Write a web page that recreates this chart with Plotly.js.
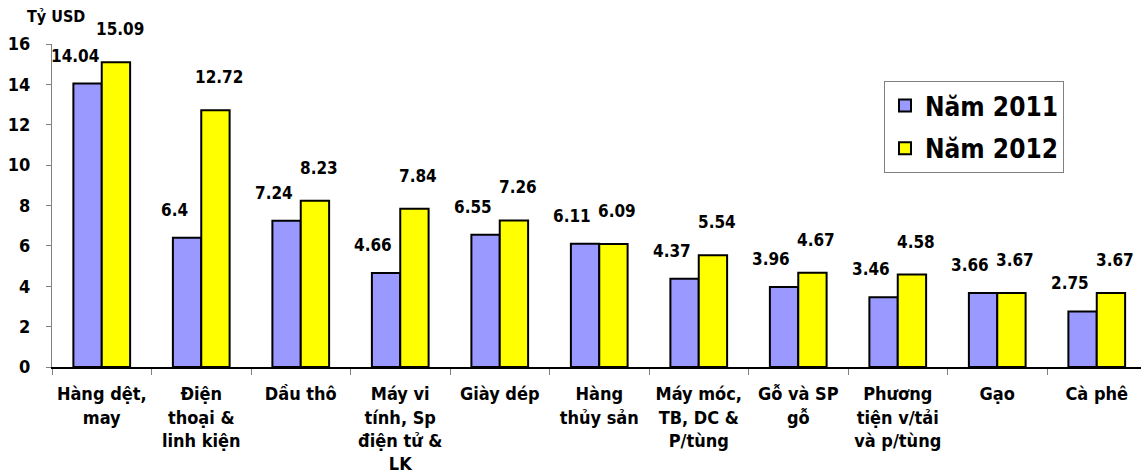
<!DOCTYPE html>
<html>
<head>
<meta charset="utf-8">
<script src="https://cdn.plot.ly/plotly-3.0.1.min.js"></script>
<style>html,body{margin:0;padding:0;background:#fff;}#chart{width:1141px;height:472px;}</style>
</head>
<body>
<div id="chart"></div>
<script>
const categories = [
  "Hàng dệt,<br>may",
  "Điện<br>thoại &<br>linh kiện",
  "Dầu thô",
  "Máy vi<br>tính, Sp<br>điện tử &<br>LK",
  "Giày dép",
  "Hàng<br>thủy sản",
  "Máy móc,<br>TB, DC &<br>P/tùng",
  "Gỗ và SP<br>gỗ",
  "Phương<br>tiện v/tải<br>và p/tùng",
  "Gạo",
  "Cà phê"
];
const values2011 = [14.04, 6.4, 7.24, 4.66, 6.55, 6.11, 4.37, 3.96, 3.46, 3.66, 2.75];
const values2012 = [15.09, 12.72, 8.23, 7.84, 7.26, 6.09, 5.54, 4.67, 4.58, 3.67, 3.67];
const labels2011 = ["14.04", "6.4", "7.24", "4.66", "6.55", "6.11", "4.37", "3.96", "3.46", "3.66", "2.75"];
const labels2012 = ["15.09", "12.72", "8.23", "7.84", "7.26", "6.09", "5.54", "4.67", "4.58", "3.67", "3.67"];
const seriesNames = ["Năm 2011", "Năm 2012"];
const yTicks = [0, 2, 4, 6, 8, 10, 12, 14, 16];
const unitLabel = "Tỷ USD";

const FONT = "'DejaVu Sans Condensed', 'DejaVu Sans', sans-serif";

const traces = [
  {type: "bar", name: seriesNames[0], x: categories, y: values2011, legendgroup: "a",
   marker: {color: "#9999FF", line: {color: "#000000", width: 2}}},
  {type: "bar", name: seriesNames[1], x: categories, y: values2012, legendgroup: "b",
   marker: {color: "#FFFF00", line: {color: "#000000", width: 2}}}
];

const plotL = 52, plotT = 44, plotB = 105, W = 1141, H = 472;
const pw = W - plotL, ph = H - plotT - plotB;

const annotations = [];
categories.forEach((c, i) => {
  annotations.push({x: c, y: values2011[i], text: labels2011[i], showarrow: false,
    xref: "x", yref: "y", xanchor: "center", yanchor: "middle", xshift: -27, yshift: 28,
    font: {family: FONT, size: 17, color: "#000", weight: "bold"}});
  annotations.push({x: c, y: values2012[i], text: labels2012[i], showarrow: false,
    xref: "x", yref: "y", xanchor: "center", yanchor: "middle", xshift: 18, yshift: 33,
    font: {family: FONT, size: 17, color: "#000", weight: "bold"}});
});
annotations.push({x: (25 - plotL) / pw, y: (H - plotB - 17) / ph, xref: "paper", yref: "paper",
  text: unitLabel, showarrow: false, xanchor: "left", yanchor: "middle",
  font: {family: FONT, size: 16, color: "#000", weight: "bold"}});

const layout = {
  width: W, height: H,
  margin: {l: plotL, r: 0, t: plotT, b: plotB},
  paper_bgcolor: "#fff", plot_bgcolor: "#fff",
  font: {family: FONT, color: "#000"},
  barmode: "group", bargap: 0.43, bargroupgap: 0,
  showlegend: true,
  legend: {x: (884 - plotL) / pw, y: (H - plotB - 81) / ph, xanchor: "left", yanchor: "top",
    bordercolor: "#808080", borderwidth: 1, bgcolor: "#fff", traceorder: "grouped", tracegroupgap: 6,
    font: {family: FONT, size: 26, color: "#000", weight: "bold"}},
  xaxis: {type: "category", range: [-0.5, -0.5 + pw / 99.5], showline: true, linecolor: "#000", linewidth: 1.5,
    ticks: "outside", tickson: "boundaries", ticklen: 6, tickcolor: "#808080", showgrid: false,
    ticklabelstandoff: 10,
    tickfont: {family: FONT, size: 18, color: "#000", weight: "bold"}, tickangle: 0, fixedrange: true},
  yaxis: {range: [0, 16], tickvals: yTicks, showline: true, linecolor: "#808080", linewidth: 1,
    ticks: "outside", ticklen: 5, tickcolor: "#808080", showgrid: false, zeroline: false,
    ticklabelstandoff: 12,
    tickfont: {family: FONT, size: 18, color: "#000", weight: "bold"}, fixedrange: true},
  annotations: annotations
};

Plotly.newPlot("chart", traces, layout, {displayModeBar: false, staticPlot: true});
</script>
</body>
</html>
